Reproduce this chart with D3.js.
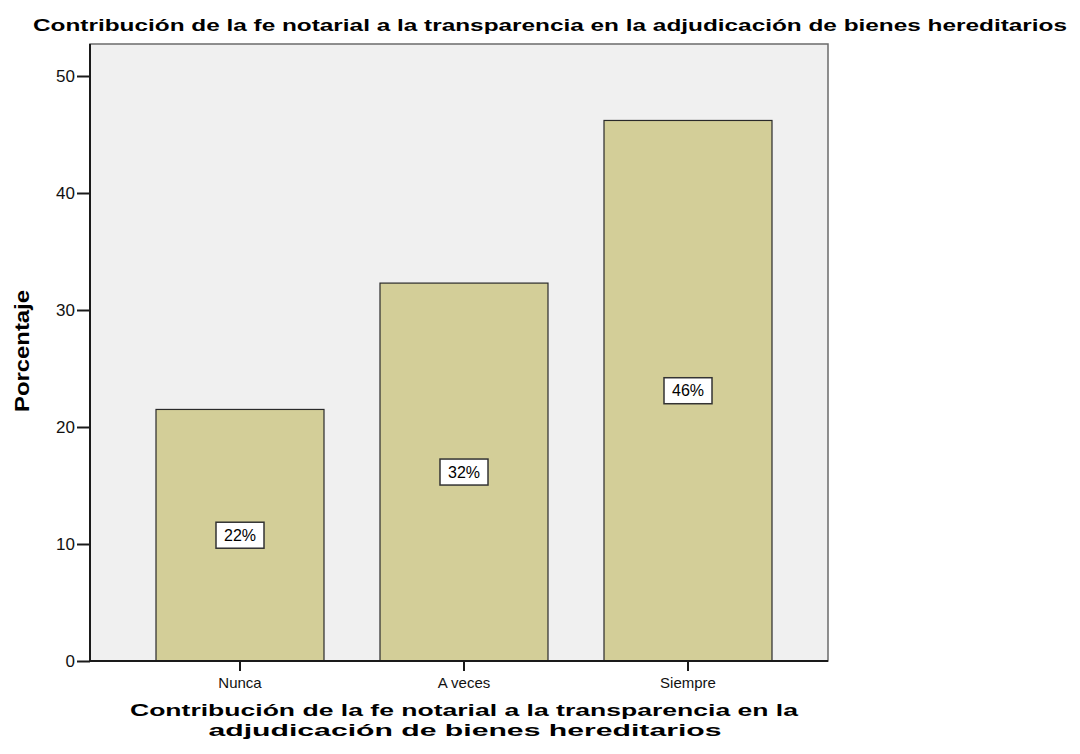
<!DOCTYPE html>
<html>
<head>
<meta charset="utf-8">
<script src="https://cdn.jsdelivr.net/npm/d3@7"></script>
<style>
  body { margin: 0; background: #fff; }
  text { font-family: "Liberation Sans", Arial, sans-serif; fill: #000; }
</style>
</head>
<body>
<svg id="chart" width="1080" height="754"></svg>
<script>
// data
const categories = ['Nunca', 'A veces', 'Siempre'];
const percents = [21.5, 32.3, 46.2];
const barLabels = ['22%', '32%', '46%'];
const yTicks = [0, 10, 20, 30, 40, 50];

const svg = d3.select('#chart');

// plot frame
const frame = {left: 90, right: 828, top: 44, bottom: 661};

let y = d3.scaleLinear().domain([0, 50]).range([661, 76]);
let x = d3.scaleBand().domain(categories).range([156, 772]).paddingInner(0.25).paddingOuter(0);

svg.append('rect')
  .attr('x', frame.left).attr('y', frame.top)
  .attr('width', frame.right - frame.left).attr('height', frame.bottom - frame.top)
  .style('fill', '#f0f0f0').style('stroke', '#6b6b6b').style('stroke-width', 1.5);

// bars
let bars = svg.append('g').selectAll('rect').data(percents).enter().append('rect');
bars.attr('x', (d, i)=> x(categories[i]))
  .attr('y', d=> y(d))
  .attr('width', x.bandwidth())
  .attr('height', d=> y(0) - y(d))
  .style('fill', '#d3ce98').style('stroke', '#2a2a2a').style('stroke-width', 1.2);

// axes
let yAxis = svg.append('g').attr('transform', 'translate(' + frame.left + ',0)')
  .call(d3.axisLeft(y).tickValues(yTicks).tickSize(13).tickPadding(2).tickFormat(d3.format('d')));
let xAxis = svg.append('g').attr('transform', 'translate(0,' + frame.bottom + ')')
  .call(d3.axisBottom(x).tickSize(10).tickPadding(6));

[yAxis, xAxis].forEach(a => {
  a.select('.domain').style('stroke', '#1a1a1a').style('stroke-width', 2);
  a.selectAll('.tick line').style('stroke', '#1a1a1a').style('stroke-width', 2);
  a.selectAll('.tick text').style('font-family', '"Liberation Sans", Arial, sans-serif').style('fill', '#111');
});
yAxis.select('.domain').attr('d', 'M0,' + frame.top + 'V' + frame.bottom);
xAxis.select('.domain').attr('d', 'M' + frame.left + ',0H' + frame.right);
yAxis.selectAll('.tick text').style('font-size', '17px');
xAxis.selectAll('.tick text').style('font-size', '15px');

// value labels
let lab = svg.append('g').selectAll('g').data(percents).enter().append('g')
  .attr('transform', (d, i)=> 'translate(' + (x(categories[i]) + x.bandwidth() / 2) + ',' + y(d / 2) + ')');
lab.append('rect').attr('x', -24).attr('y', -13).attr('width', 48).attr('height', 26)
  .style('fill', '#fff').style('stroke', '#333').style('stroke-width', 1.5);
lab.append('text').attr('text-anchor', 'middle').attr('dy', '0.36em')
  .style('font-size', '16px').text((d, i)=> barLabels[i]);

// titles
svg.append('text').attr('x', 550).attr('y', 31).attr('text-anchor', 'middle')
  .attr('textLength', 1034).attr('lengthAdjust', 'spacingAndGlyphs')
  .style('font-size', '17px').style('font-weight', 'bold')
  .text('Contribución de la fe notarial a la transparencia en la adjudicación de bienes hereditarios');

svg.append('text').attr('transform', 'translate(29,351) rotate(-90)').attr('text-anchor', 'middle')
  .attr('textLength', 122).attr('lengthAdjust', 'spacingAndGlyphs')
  .style('font-size', '20px').style('font-weight', 'bold').text('Porcentaje');

svg.append('text').attr('x', 464).attr('y', 716).attr('text-anchor', 'middle')
  .attr('textLength', 668).attr('lengthAdjust', 'spacingAndGlyphs')
  .style('font-size', '17px').style('font-weight', 'bold')
  .text('Contribución de la fe notarial a la transparencia en la');
svg.append('text').attr('x', 465).attr('y', 736).attr('text-anchor', 'middle')
  .attr('textLength', 513).attr('lengthAdjust', 'spacingAndGlyphs')
  .style('font-size', '17px').style('font-weight', 'bold')
  .text('adjudicación de bienes hereditarios');
</script>
</body>
</html>
